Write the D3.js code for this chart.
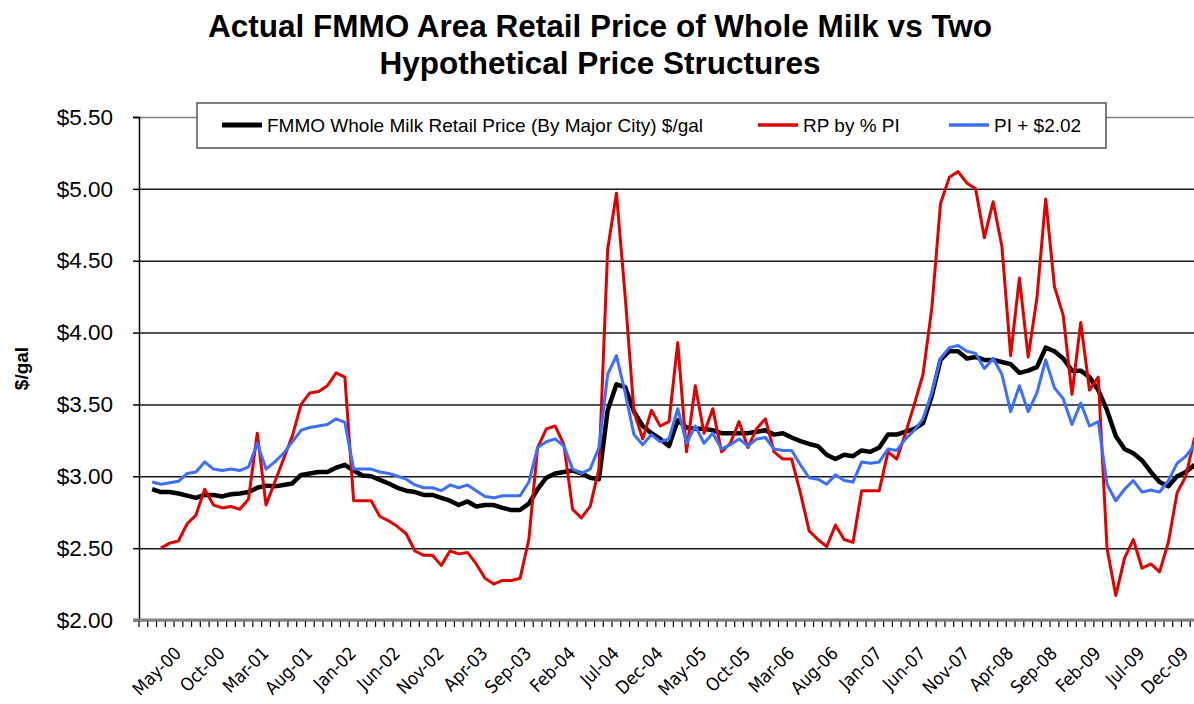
<!DOCTYPE html>
<html lang="en">

<head>
    <meta charset="UTF-8">
    <title>FMMO Retail Price of Whole Milk</title>
    <style>
        body {
            margin: 0;
            background: #fff;
        }

        svg {
            display: block;
        }
    </style>
</head>

<body>

    <div id="wrapper"></div>

    <script src="https://d3js.org/d3.v7.min.js"></script>
    <script>
        // monthly categories Feb-00 .. Feb-10 (121 months)
        const months = d3.timeMonth
            .range(new Date(2000, 1, 1), new Date(2010, 2, 1))
            .map(d3.timeFormat("%b-%y"));

        // only every 5th month gets a label
        const tickLabels = ["May-00", "Oct-00", "Mar-01", "Aug-01", "Jan-02", "Jun-02", "Nov-02", "Apr-03",
            "Sep-03", "Feb-04", "Jul-04", "Dec-04", "May-05", "Oct-05", "Mar-06", "Aug-06", "Jan-07",
            "Jun-07", "Nov-07", "Apr-08", "Sep-08", "Feb-09", "Jul-09", "Dec-09"];

        const yTicks = [2.0, 2.5, 3.0, 3.5, 4.0, 4.5, 5.0, 5.5];

        // FMMO Whole Milk Retail Price (By Major City) $/gal
        const retailPrice = [
            null, 2.91, 2.89, 2.89, 2.88, 2.865, 2.85, 2.87, 2.87, 2.86,
            2.875, 2.88, 2.89, 2.92, 2.935, 2.93, 2.94, 2.95, 3.01, 3.02,
            3.03, 3.03, 3.06, 3.08, 3.04, 3.005, 3.00, 2.975, 2.95, 2.92,
            2.90, 2.89, 2.87, 2.87, 2.85, 2.83, 2.80, 2.825, 2.79, 2.80,
            2.80, 2.78, 2.765, 2.765, 2.81, 2.91, 2.99, 3.02, 3.03, 3.04,
            3.02, 2.99, 2.98, 3.46, 3.64, 3.62, 3.45, 3.35, 3.30, 3.26,
            3.21, 3.39, 3.34, 3.33, 3.33, 3.32, 3.30, 3.30, 3.30, 3.30,
            3.31, 3.32, 3.29, 3.30, 3.27, 3.245, 3.225, 3.21, 3.15, 3.12,
            3.15, 3.14, 3.18, 3.17, 3.20, 3.29, 3.29, 3.31, 3.33, 3.37,
            3.56, 3.81, 3.87, 3.87, 3.82, 3.83, 3.81, 3.81, 3.795, 3.78,
            3.72, 3.735, 3.76, 3.895, 3.87, 3.82, 3.735, 3.735, 3.69, 3.60,
            3.46, 3.28, 3.19, 3.16, 3.11, 3.03, 2.96, 2.93, 3.00, 3.03,
            3.08
        ];

        // RP by % PI
        const rpByPi = [
            null, null, 2.50, 2.535, 2.55, 2.67, 2.73, 2.91, 2.80, 2.78,
            2.79, 2.77, 2.84, 3.30, 2.80, 2.96, 3.12, 3.28, 3.50, 3.58,
            3.59, 3.63, 3.72, 3.69, 2.83, 2.83, 2.83, 2.72, 2.69, 2.65,
            2.60, 2.48, 2.45, 2.45, 2.38, 2.48, 2.46, 2.47, 2.39, 2.29,
            2.25, 2.275, 2.275, 2.29, 2.56, 3.20, 3.33, 3.35, 3.22, 2.77,
            2.71, 2.79, 3.05, 4.58, 4.97, 4.25, 3.45, 3.26, 3.46, 3.35,
            3.38, 3.93, 3.17, 3.63, 3.30, 3.47, 3.17, 3.23, 3.38, 3.20,
            3.33, 3.40, 3.17, 3.12, 3.12, 2.885, 2.62, 2.56, 2.51, 2.66,
            2.56, 2.54, 2.90, 2.90, 2.90, 3.17, 3.12, 3.30, 3.50, 3.71,
            4.17, 4.90, 5.08, 5.12, 5.04, 5.00, 4.66, 4.91, 4.60, 3.84,
            4.38, 3.83, 4.24, 4.93, 4.32, 4.12, 3.57, 4.07, 3.60, 3.69,
            2.50, 2.17, 2.43, 2.56, 2.36, 2.39, 2.335, 2.54, 2.885, 3.00,
            3.27
        ];

        // PI + $2.02
        const piPlus = [
            null, 2.96, 2.945, 2.955, 2.965, 3.02, 3.03, 3.10, 3.05, 3.04,
            3.05, 3.04, 3.065, 3.23, 3.05, 3.10, 3.16, 3.24, 3.32, 3.34,
            3.35, 3.36, 3.40, 3.375, 3.05, 3.05, 3.05, 3.03, 3.02, 3.00,
            2.98, 2.94, 2.92, 2.92, 2.90, 2.94, 2.92, 2.94, 2.90, 2.86,
            2.85, 2.865, 2.865, 2.865, 2.96, 3.20, 3.24, 3.26, 3.21, 3.05,
            3.02, 3.05, 3.20, 3.71, 3.84, 3.58, 3.29, 3.22, 3.29, 3.24,
            3.26, 3.47, 3.23, 3.35, 3.23, 3.30, 3.19, 3.22, 3.26, 3.21,
            3.26, 3.27, 3.19, 3.18, 3.18, 3.08, 2.99, 2.98, 2.945, 3.01,
            2.97, 2.96, 3.10, 3.09, 3.10, 3.19, 3.18, 3.26, 3.32, 3.40,
            3.58, 3.82, 3.895, 3.91, 3.87, 3.855, 3.75, 3.82, 3.71, 3.45,
            3.63, 3.45, 3.58, 3.81, 3.615, 3.54, 3.36, 3.51, 3.35, 3.38,
            2.945, 2.83, 2.91, 2.97, 2.89, 2.905, 2.89, 2.97, 3.09, 3.14,
            3.22
        ];

        const seriesNames = ["FMMO Whole Milk Retail Price (By Major City) $/gal", "RP by % PI", "PI + $2.02"];
        const seriesColors = ["#000000", "#e00000", "#3d6fff"];

        function drawLineChart() {
            const series = [retailPrice, rpByPi, piPlus];
            const strokeWidths = [4.5, 3, 3];

            let dimensions = {
                width: 1194,
                height: 704,
                margin: {
                    top: 117,
                    right: -5,
                    bottom: 84,
                    left: 139,
                },
            };
            dimensions.boundedWidth =
                dimensions.width - dimensions.margin.left - dimensions.margin.right;
            dimensions.boundedHeight =
                dimensions.height - dimensions.margin.top - dimensions.margin.bottom;

            const wrapper = d3
                .select("#wrapper")
                .append("svg")
                .attr("width", dimensions.width)
                .attr("height", dimensions.height)
                .style("font-family", "Arial, 'Liberation Sans', sans-serif");

            const bounds = wrapper
                .append("g")
                .attr("transform", `translate(${dimensions.margin.left},${dimensions.margin.top})`);

            // scales
            const xScale = d3
                .scaleBand()
                .domain(months)
                .range([0, dimensions.boundedWidth]);
            const xCenter = (m) => xScale(m) + xScale.bandwidth() / 2;

            const yScale = d3
                .scaleLinear()
                .domain([2, 5.5])
                .range([dimensions.boundedHeight, 0]);

            // horizontal gridlines
            const grid = bounds
                .append("g")
                .call(d3.axisLeft(yScale).tickValues(yTicks).tickSize(-dimensions.boundedWidth).tickFormat(""));
            grid.select(".domain").remove();
            grid.selectAll(".tick line")
                .attr("stroke", (d) => d === 5.5 ? "#808080" : "#1a1a1a")
                .attr("stroke-width", 1.5);

            // y axis
            const yAxis = bounds
                .append("g")
                .call(d3.axisLeft(yScale).tickValues(yTicks).tickSize(6).tickPadding(20).tickFormat(d3.format("$.2f")));
            yAxis.select(".domain").attr("stroke", "#000").attr("stroke-width", 1.5);
            yAxis.selectAll(".tick line").attr("stroke", "#000").attr("stroke-width", 1.5);
            yAxis.selectAll(".tick text")
                .style("font-size", "22.5px")
                .style("font-family", "Arial, 'Liberation Sans', sans-serif")
                .attr("fill", "#000");

            // x axis: a tick mark between every month
            const xTicks = bounds
                .append("g")
                .attr("transform", `translate(0,${dimensions.boundedHeight})`);
            xTicks.selectAll("line")
                .data(months.concat(["end"]))
                .join("line")
                .attr("x1", (d) => d === "end" ? dimensions.boundedWidth : xScale(d))
                .attr("x2", (d) => d === "end" ? dimensions.boundedWidth : xScale(d))
                .attr("y1", 0)
                .attr("y2", 7)
                .attr("stroke", "#000")
                .attr("stroke-width", 1.2);
            xTicks.append("line")
                .attr("x1", -6)
                .attr("x2", dimensions.boundedWidth)
                .attr("stroke", "#808080")
                .attr("stroke-width", 3);

            // x labels, rotated
            xTicks.selectAll("text")
                .data(tickLabels)
                .join("text")
                .attr("transform", (d) => `translate(${xCenter(d) + 3},${25}) rotate(-45)`)
                .attr("text-anchor", "end")
                .attr("dy", "0.75em")
                .style("font-family", "'DejaVu Sans Condensed', 'DejaVu Sans', sans-serif")
                .style("font-size", "18px")
                .text((d) => d);

            // series lines
            series.forEach((values, k) => {
                const lineGenerator = d3
                    .line()
                    .defined((d) => d != null)
                    .x((d, i) => xCenter(months[i]))
                    .y((d) => yScale(d));
                bounds.append("path")
                    .attr("d", lineGenerator(values))
                    .attr("fill", "none")
                    .attr("stroke", seriesColors[k])
                    .attr("stroke-width", strokeWidths[k])
                    .attr("stroke-linejoin", "round");
            });

            // y axis title
            wrapper.append("text")
                .attr("transform", `translate(28,${dimensions.margin.top + dimensions.boundedHeight / 2}) rotate(-90)`)
                .attr("text-anchor", "middle")
                .style("font-weight", "bold")
                .style("font-size", "19px")
                .text("$/gal");

            // title
            const title = wrapper.append("text")
                .attr("text-anchor", "middle")
                .style("font-weight", "bold")
                .style("font-size", "31.5px");
            title.append("tspan").attr("x", 600).attr("y", 37)
                .text("Actual FMMO Area Retail Price of Whole Milk vs Two");
            title.append("tspan").attr("x", 600).attr("y", 74)
                .text("Hypothetical Price Structures");

            // legend
            const legend = wrapper.append("g");
            legend.append("rect")
                .attr("x", 197)
                .attr("y", 103)
                .attr("width", 909)
                .attr("height", 45)
                .attr("fill", "#fff")
                .attr("stroke", "#555")
                .attr("stroke-width", 1.5);
            const legendX = [222, 758, 949];
            seriesNames.forEach((name, k) => {
                legend.append("line")
                    .attr("x1", legendX[k])
                    .attr("x2", legendX[k] + 40)
                    .attr("y1", 125)
                    .attr("y2", 125)
                    .attr("stroke", seriesColors[k])
                    .attr("stroke-width", strokeWidths[k] + 0.5);
                legend.append("text")
                    .attr("x", legendX[k] + 45)
                    .attr("y", 132)
                    .style("font-size", "19px")
                    .text(name);
            });
        }
        drawLineChart()
    </script>
</body>

</html>
